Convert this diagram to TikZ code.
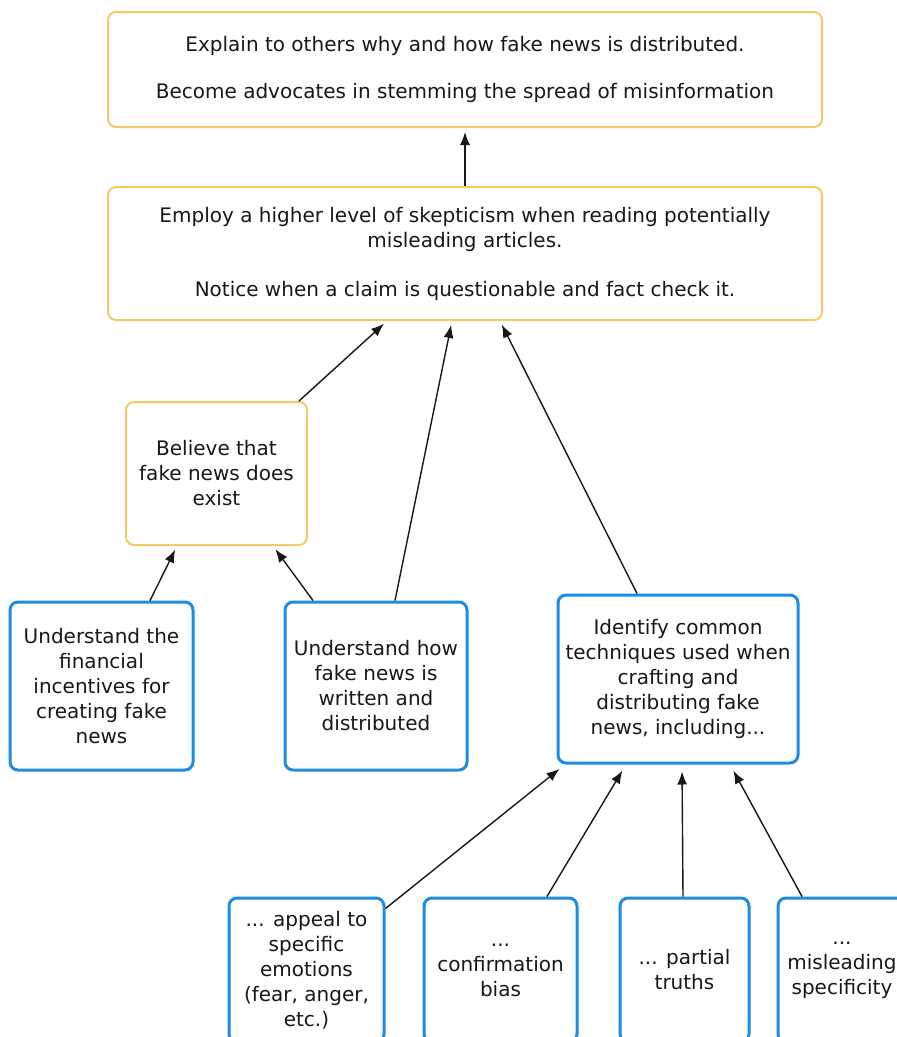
\documentclass[tikz,border=0pt]{standalone}
\usepackage{fontspec}
\setmainfont{DejaVu Sans}
\usetikzlibrary{arrows.meta}
\definecolor{goldline}{RGB}{242,204,104}
\definecolor{blueline}{RGB}{28,140,228}
\definecolor{ink}{RGB}{24,24,24}
\begin{document}
\begin{tikzpicture}[x=1pt,y=-1pt,
  box/.style={rounded corners=8pt, fill=white, inner sep=0pt, align=center,
    font=\fontsize{20}{25}\selectfont, text=ink},
  goal/.style={box, draw=goldline, line width=2pt},
  skill/.style={box, draw=blueline, line width=3pt},
  link/.style={draw=ink, line width=1.4pt, -{Latex[length=13pt,width=10pt]}, shorten >=4pt}]

% canvas
\useasboundingbox (0,0) rectangle (897,1037);
\fill[white] (0,0) rectangle (897,1037);
\clip (0,0) rectangle (897,1037);

% outcome boxes (gold)
\node[goal, minimum width=714pt, minimum height=115pt] (top) at (465,69.5)
  {Explain to others why and how fake news is distributed.\\[22pt]
   Become advocates in stemming the spread of misinformation};
\node[goal, minimum width=714pt, minimum height=133pt] (skep) at (465,253.5)
  {Employ a higher level of skepticism when reading potentially\\
   misleading articles.\\[24pt]
   Notice when a claim is questionable and fact check it.};
\node[goal, minimum width=181pt, minimum height=143pt] (believe) at (216.5,473.5)
  {Believe that\\fake news does\\exist};

% understanding boxes (blue)
\node[skill, minimum width=183pt, minimum height=168pt] (money) at (101.5,686)
  {Understand the\\financial\\incentives for\\creating fake\\news};
\node[skill, minimum width=182pt, minimum height=168pt] (how) at (376,686)
  {Understand how\\fake news is\\written and\\distributed};
\node[skill, minimum width=240pt, minimum height=168pt] (tech) at (678,679)
  {Identify common\\techniques used when\\crafting and\\distributing fake\\news, including...};

% techniques (blue)
\node[skill, minimum width=155pt, minimum height=144pt] (emo) at (306.5,970)
  {... appeal to\\specific\\emotions\\(fear, anger,\\etc.)};
\node[skill, minimum width=153pt, minimum height=144pt] (bias) at (500.5,970)
  {...\\confirmation\\bias};
\node[skill, minimum width=129pt, minimum height=144pt] (partial) at (684.5,970)
  {... partial\\truths};
\node[skill, minimum width=128pt, minimum height=144pt] (spec) at (842,970)
  {...\\misleading\\specificity};

% connectors
\draw[link] (skep.north) -- (top.south);
\draw[link] ([xshift=-9pt]believe.north east) -- ([xshift=-78pt]skep.south);
\draw[link] ([xshift=19pt]how.north) -- ([xshift=-13pt]skep.south);
\draw[link] ([xshift=-41pt]tech.north) -- ([xshift=35pt]skep.south);
\draw[link] ([xshift=48.5pt]money.north) -- ([xshift=-39.5pt]believe.south);
\draw[link] ([xshift=-63pt]how.north) -- ([xshift=56.5pt]believe.south);
\draw[link, shorten >=7pt] ([yshift=-12pt]emo.north east) -- ([xshift=-113pt]tech.south);
\draw[link, shorten >=7pt] ([xshift=46.5pt]bias.north) -- ([xshift=-52pt]tech.south);
\draw[link, shorten >=7pt] ([xshift=-1.5pt]partial.north) -- ([xshift=4pt]tech.south);
\draw[link, shorten >=7pt] ([xshift=-40pt]spec.north) -- ([xshift=52pt]tech.south);
\end{tikzpicture}
\end{document}
